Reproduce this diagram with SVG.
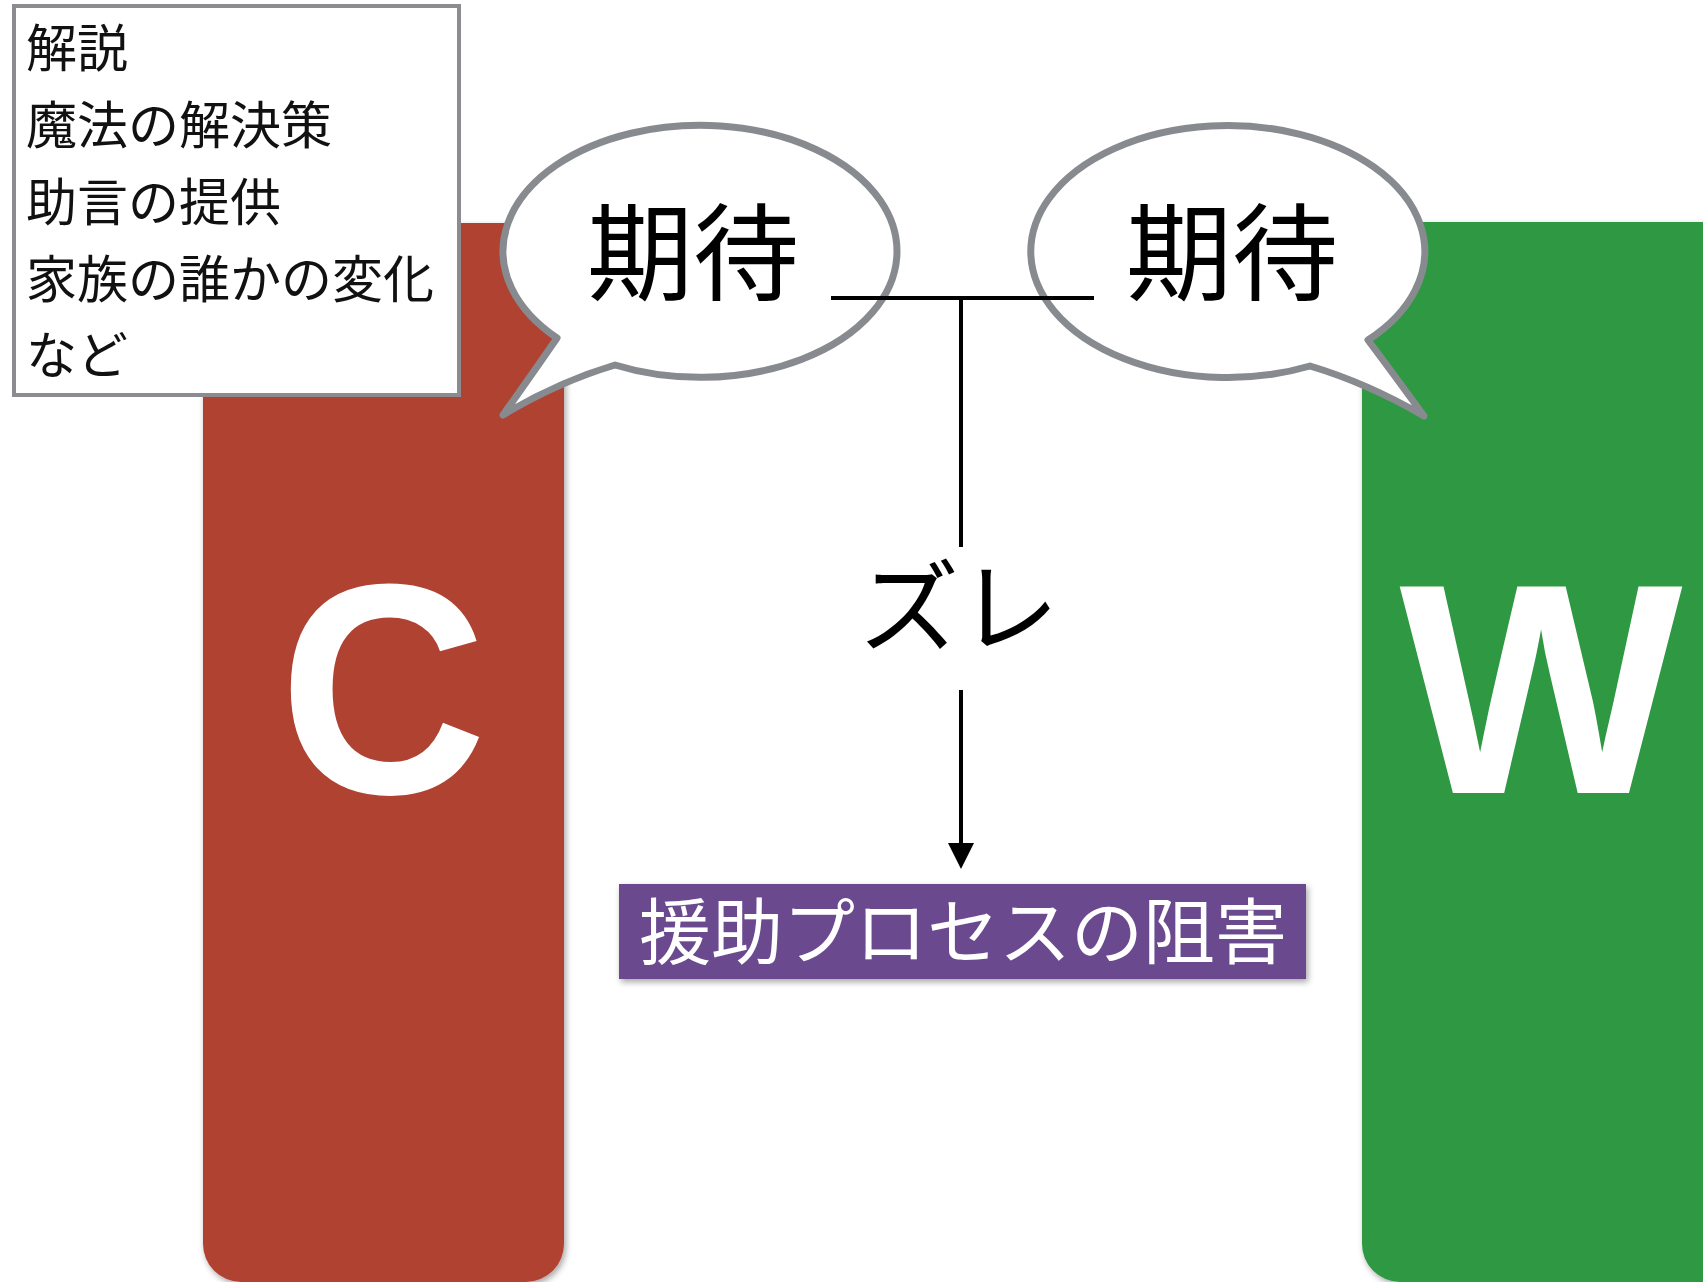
<svg xmlns="http://www.w3.org/2000/svg" width="1703" height="1282" viewBox="0 0 1703 1282">
  <style>
    .jp { font-family: "Noto Sans CJK JP", "Noto Sans", sans-serif; }
    .big { font-family: "Liberation Sans", Arial, sans-serif; font-weight: bold; font-size: 300px; fill: #ffffff; text-anchor: middle; }
    .bubble { fill: #ffffff; stroke: #878a8e; stroke-width: 7; stroke-linejoin: round; }
    .conn { stroke: #000000; stroke-width: 4; fill: none; }
    .boxtxt { font-size: 51px; fill: #111111; }
  </style>
  <defs>
    <filter id="shadow" x="-10%" y="-10%" width="120%" height="120%">
      <feDropShadow dx="2" dy="3" stdDeviation="3" flood-color="#000000" flood-opacity="0.35"/>
    </filter>
  </defs>
  <rect width="1703" height="1282" fill="#ffffff"/>

  <g id="node-C">
    <rect x="203" y="223" width="361" height="1059" rx="38" fill="#b04332" filter="url(#shadow)"/>
    <text class="big" x="383" y="793" transform="translate(383 0) scale(0.96 1) translate(-383 0)">C</text>
  </g>

  <g id="node-W">
    <rect x="1362" y="222" width="380" height="1060" rx="38" fill="#2e9943" filter="url(#shadow)"/>
    <text class="big" x="1541" y="793">W</text>
  </g>

  <g id="node-explain">
    <rect x="14" y="6" width="445" height="389" fill="#ffffff" stroke="#8a8c90" stroke-width="4"/>
    <text class="jp boxtxt" x="26" y="67">解説</text>
    <text class="jp boxtxt" x="26" y="144">魔法の解決策</text>
    <text class="jp boxtxt" x="26" y="221">助言の提供</text>
    <text class="jp boxtxt" x="26" y="298">家族の誰かの変化</text>
    <text class="jp boxtxt" x="26" y="374">など</text>
  </g>

  <g id="node-bubble-left">
    <path class="bubble" d="M 557 338 A 197 126 0 1 1 615 365 Q 558 382 503 415 Q 535 370 557 338 Z"/>
    <text class="jp" x="693" y="292" font-size="106" text-anchor="middle" fill="#000000">期待</text>
  </g>

  <g id="node-bubble-right">
    <path class="bubble" d="M 1368 340 A 197 126 0 1 0 1310 366 Q 1367 383 1424 416 Q 1392 372 1368 340 Z"/>
    <text class="jp" x="1232" y="292" font-size="106" text-anchor="middle" fill="#000000">期待</text>
  </g>

  <g id="connectors">
    <line class="conn" x1="831" y1="298" x2="1094" y2="298"/>
    <line class="conn" x1="961" y1="298" x2="961" y2="547"/>
    <line class="conn" x1="961" y1="690" x2="961" y2="846"/>
    <polygon points="948,843 974,843 961,869" fill="#000000"/>
  </g>

  <g id="node-zure">
    <text class="jp" x="959" y="644" font-size="100" text-anchor="middle" fill="#000000">ズレ</text>
  </g>

  <g id="node-obstacle">
    <rect x="619" y="884" width="687" height="95" fill="#6b4a8f" filter="url(#shadow)"/>
    <text class="jp" x="963" y="958" font-size="72" text-anchor="middle" fill="#ffffff">援助プロセスの阻害</text>
  </g>
</svg>
